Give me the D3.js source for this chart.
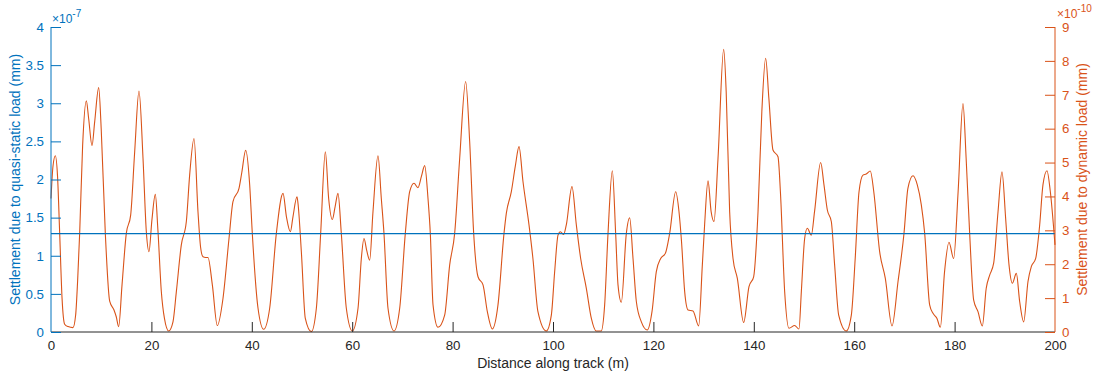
<!DOCTYPE html>
<html>
<head>
<meta charset="utf-8">
<script src="https://cdn.jsdelivr.net/npm/d3@7/dist/d3.min.js"></script>
<style>
  html, body { margin: 0; padding: 0; background: #fff; }
  svg { display: block; font-family: "Liberation Sans", Arial, sans-serif; }
</style>
</head>
<body>
<svg id="chart" width="1104" height="378"></svg>
<script>
// Distance along track (m)
const distance = [
  0, 0.4, 0.86, 1.3, 1.73, 2.2, 2.72, 3.4, 4.38, 4.91, 5.3, 5.71, 6.3, 7.04, 7.5, 8.17, 8.7, 9.5, 10.0, 10.82,
  11.69, 12.55, 13.0, 13.48, 14.15, 15.0, 15.87, 16.67, 17.53, 18.33, 18.99, 19.52, 20.1, 20.78, 21.3, 21.98, 22.6, 23.44, 24.3, 24.97,
  25.96, 26.96, 27.62, 28.49, 29.28, 29.8, 30.28, 30.8, 31.27, 32.14, 33.13, 34.26, 35.46, 36.25, 37.45, 38.0, 38.78, 39.58, 40.1, 41.24,
  42.36, 43.56, 44.89, 46.22, 46.9, 47.68, 48.2, 49.0, 49.2, 49.87, 50.66, 51.86, 52.86, 53.72, 54.65, 55.31, 56.04, 56.6, 57.17, 57.83,
  58.83, 60.03, 61.16, 61.82, 62.35, 62.9, 63.48, 64.14, 65.14, 65.8, 66.33, 67.13, 68.33, 69.46, 70.58, 71.45, 72.31, 73.1, 73.8, 74.44,
  75.1, 75.56, 76.1, 77.09, 78.42, 79.42, 80.41, 81.41, 82.6, 83.4, 84.2, 85.06, 86.06, 86.92, 87.91, 89.04, 90.24, 90.7, 91.7, 92.5,
  93.23, 94.02, 95.22, 96.0, 97.0, 98.67, 99.67, 100.33, 101.0, 101.46, 102.12, 102.65, 103.78, 104.65, 105.51, 106.64, 107.64, 108.6, 109.6, 110.29,
  110.96, 111.82, 112.48, 112.95, 113.61, 114.61, 115.27, 115.94, 116.6, 117.6, 118.79, 119.72, 120.58, 121.45, 122.38, 123.24, 124.44, 125.1, 125.6, 126.23,
  126.9, 127.89, 129.02, 129.75, 130.2, 130.88, 131.5, 132.07, 132.87, 134.0, 134.5, 135.19, 135.86, 136.72, 137.98, 139.04, 139.97, 140.84, 141.6, 142.36,
  143.0, 143.82, 144.82, 145.3, 146.15, 147.01, 148.14, 149.0, 149.47, 150.13, 150.66, 151.46, 152.1, 153.32, 153.98, 154.65, 155.44, 156.1, 156.91, 158.43,
  159.43, 160.2, 160.96, 161.75, 162.4, 163.21, 163.9, 165.07, 166.2, 167.53, 168.73, 169.92, 170.7, 171.71, 172.57, 173.37, 174.04, 175.03, 175.7, 176.49,
  177.16, 178.0, 178.88, 179.81, 180.7, 181.67, 182.3, 183.0, 183.8, 184.66, 185.52, 186.3, 186.99, 187.78, 188.65, 189.44, 190.17, 190.84, 191.5, 192.3,
  192.96, 193.76, 194.62, 195.28, 196.15, 196.95, 197.6, 198.4, 199.07, 200.0
];
// Settlement due to dynamic load (x 1e-10 mm)
const dynamicSettlement = [
  3.94, 4.9, 5.2, 4.6, 2.91, 1.0, 0.23, 0.16, 0.13, 0.5, 1.5, 2.91, 5.5, 6.82, 6.3, 5.5, 6.2, 7.21, 6.0, 2.91,
  0.91, 0.65, 0.45, 0.16, 1.39, 2.91, 3.45, 5.32, 7.11, 5.12, 2.96, 2.37, 3.3, 4.06, 3.0, 1.19, 0.4, 0.03, 0.3, 1.19,
  2.57, 3.26, 4.63, 5.71, 3.55, 2.5, 2.22, 2.2, 2.2, 1.39, 0.19, 0.99, 2.76, 3.85, 4.24, 4.7, 5.36, 4.34, 2.91, 0.7,
  0.08, 0.7, 2.91, 4.09, 3.4, 2.96, 3.4, 3.99, 3.8, 2.37, 0.4, 0.01, 0.7, 2.91, 5.32, 3.94, 3.32, 3.7, 4.09, 2.91,
  0.7, 0.03, 0.7, 2.17, 2.76, 2.4, 2.12, 3.55, 5.2, 3.94, 2.91, 0.7, 0.03, 0.7, 2.91, 4.14, 4.39, 4.26, 4.6, 4.91,
  3.94, 2.91, 0.8, 0.14, 0.5, 1.98, 2.91, 5.12, 7.39, 5.62, 2.91, 1.63, 1.39, 0.6, 0.09, 0.8, 2.91, 3.5, 4.14, 4.9,
  5.47, 4.44, 3.16, 2.17, 0.6, 0.03, 0.5, 1.78, 2.86, 2.96, 2.88, 3.16, 4.29, 3.16, 2.17, 1.29, 0.4, 0.03, 0.03, 0.8,
  2.91, 4.76, 2.91, 1.39, 0.88, 2.91, 3.37, 2.17, 0.9, 0.3, 0.06, 0.6, 1.78, 2.17, 2.32, 2.91, 4.14, 3.55, 2.67, 1.19,
  0.65, 0.62, 0.18, 1.98, 3.16, 4.46, 3.55, 3.26, 5.12, 8.34, 7.09, 3.55, 2.17, 1.58, 0.28, 1.34, 1.63, 3.55, 6.5, 8.08,
  6.9, 5.37, 5.17, 4.14, 1.19, 0.11, 0.19, 0.09, 1.19, 2.76, 3.06, 2.86, 3.55, 5.0, 4.34, 3.6, 3.26, 1.98, 0.5, 0.03,
  0.5, 2.17, 4.14, 4.63, 4.66, 4.75, 4.14, 2.37, 1.58, 0.18, 1.49, 2.91, 4.24, 4.61, 4.34, 3.75, 2.91, 0.8, 0.55, 0.4,
  0.14, 1.78, 2.65, 2.17, 4.14, 6.74, 5.12, 2.91, 0.94, 0.6, 0.18, 1.29, 1.68, 2.03, 3.55, 4.73, 3.35, 1.98, 1.44, 1.73,
  0.9, 0.3, 1.49, 1.93, 2.17, 3.16, 4.34, 4.76, 4.14, 2.57
];
// Settlement due to quasi-static load (x 1e-7 mm), constant along track
const quasiDistance = [0, 200];
const quasiSettlement = [1.29, 1.29];

const xTicks = [0, 20, 40, 60, 80, 100, 120, 140, 160, 180, 200];
const leftTicks = [0, 0.5, 1, 1.5, 2, 2.5, 3, 3.5, 4];
const rightTicks = [0, 1, 2, 3, 4, 5, 6, 7, 8, 9];

const BLUE = "#0072BD", ORANGE = "#D95319", DARK = "#262626";
const margin = {left: 51, right: 49, top: 27, bottom: 46};
const W = 1104, H = 378;
const svg = d3.select("#chart");

const x = d3.scaleLinear().domain([0, 200]).range([margin.left, W - margin.right]);
const yL = d3.scaleLinear().domain([0, 4]).range([H - margin.bottom, margin.top]);
const yR = d3.scaleLinear().domain([0, 9]).range([H - margin.bottom, margin.top]);
const y0 = H - margin.bottom;

// curves
const dyn = distance.map((d, i) => [d, dynamicSettlement[i]]);
svg.append("path")
  .datum(dyn)
  .attr("fill", "none").attr("stroke", ORANGE).attr("stroke-width", 1.1)
  .attr("d", d3.line().x(d => x(d[0])).y(d => yR(d[1])).curve(d3.curveMonotoneX));

const qs = quasiDistance.map((d, i) => [d, quasiSettlement[i]]);
svg.append("path")
  .datum(qs)
  .attr("fill", "none").attr("stroke", BLUE).attr("stroke-width", 1.1)
  .attr("d", d3.line().x(d => x(d[0])).y(d => yL(d[1])));

// x axis
const xAxis = svg.append("g").attr("transform", `translate(0,${y0})`)
  .call(d3.axisBottom(x).tickValues(xTicks).tickSize(-10).tickPadding(9).tickFormat(d3.format("d")));
xAxis.select(".domain").attr("stroke", DARK).attr("d", `M${x(0)},0H${x(200)}`);
xAxis.selectAll(".tick line").attr("stroke", DARK);
xAxis.selectAll(".tick text").attr("fill", DARK).attr("font-size", 13.3);
xAxis.selectAll(".tick").filter(d => d === 0 || d === 200).select("line").remove();

// left axis
const lAxis = svg.append("g").attr("transform", `translate(${margin.left},0)`)
  .call(d3.axisLeft(yL).tickValues(leftTicks).tickSize(-10).tickPadding(7).tickFormat(d => String(d)));
lAxis.select(".domain").attr("stroke", BLUE).attr("d", `M0,${yL(4)}V${yL(0)}`);
lAxis.selectAll(".tick line").attr("stroke", BLUE);
lAxis.selectAll(".tick text").attr("fill", BLUE).attr("font-size", 13.3);

// right axis
const rAxis = svg.append("g").attr("transform", `translate(${W - margin.right},0)`)
  .call(d3.axisRight(yR).tickValues(rightTicks).tickSize(-10).tickPadding(7).tickFormat(d => String(d)));
rAxis.select(".domain").attr("stroke", ORANGE).attr("d", `M0,${yR(9)}V${yR(0)}`);
rAxis.selectAll(".tick line").attr("stroke", ORANGE);
rAxis.selectAll(".tick text").attr("fill", ORANGE).attr("font-size", 13.3);

// axis labels
svg.append("text")
  .attr("x", (x(0) + x(200)) / 2).attr("y", 368)
  .attr("text-anchor", "middle").attr("font-size", 14).attr("fill", DARK)
  .text("Distance along track (m)");
svg.append("text")
  .attr("transform", `translate(20,${(yL(0) + yL(4)) / 2}) rotate(-90)`)
  .attr("text-anchor", "middle").attr("font-size", 14).attr("fill", BLUE)
  .text("Settlement due to quasi-static load (mm)");
svg.append("text")
  .attr("transform", `translate(1087,${(yR(0) + yR(9)) / 2}) rotate(-90)`)
  .attr("text-anchor", "middle").attr("font-size", 14).attr("fill", ORANGE)
  .text("Settlement due to dynamic load (mm)");

// exponent labels
function expLabel(xp, yp, exp, color) {
  const t = svg.append("text").attr("x", xp).attr("y", yp).attr("font-size", 12).attr("fill", color);
  t.append("tspan").text("\u00D710");
  t.append("tspan").attr("dy", -6).attr("font-size", 10).text(exp);
}
expLabel(52, 23, "-7", BLUE);
expLabel(1057, 18, "-10", ORANGE);
</script>
</body>
</html>
